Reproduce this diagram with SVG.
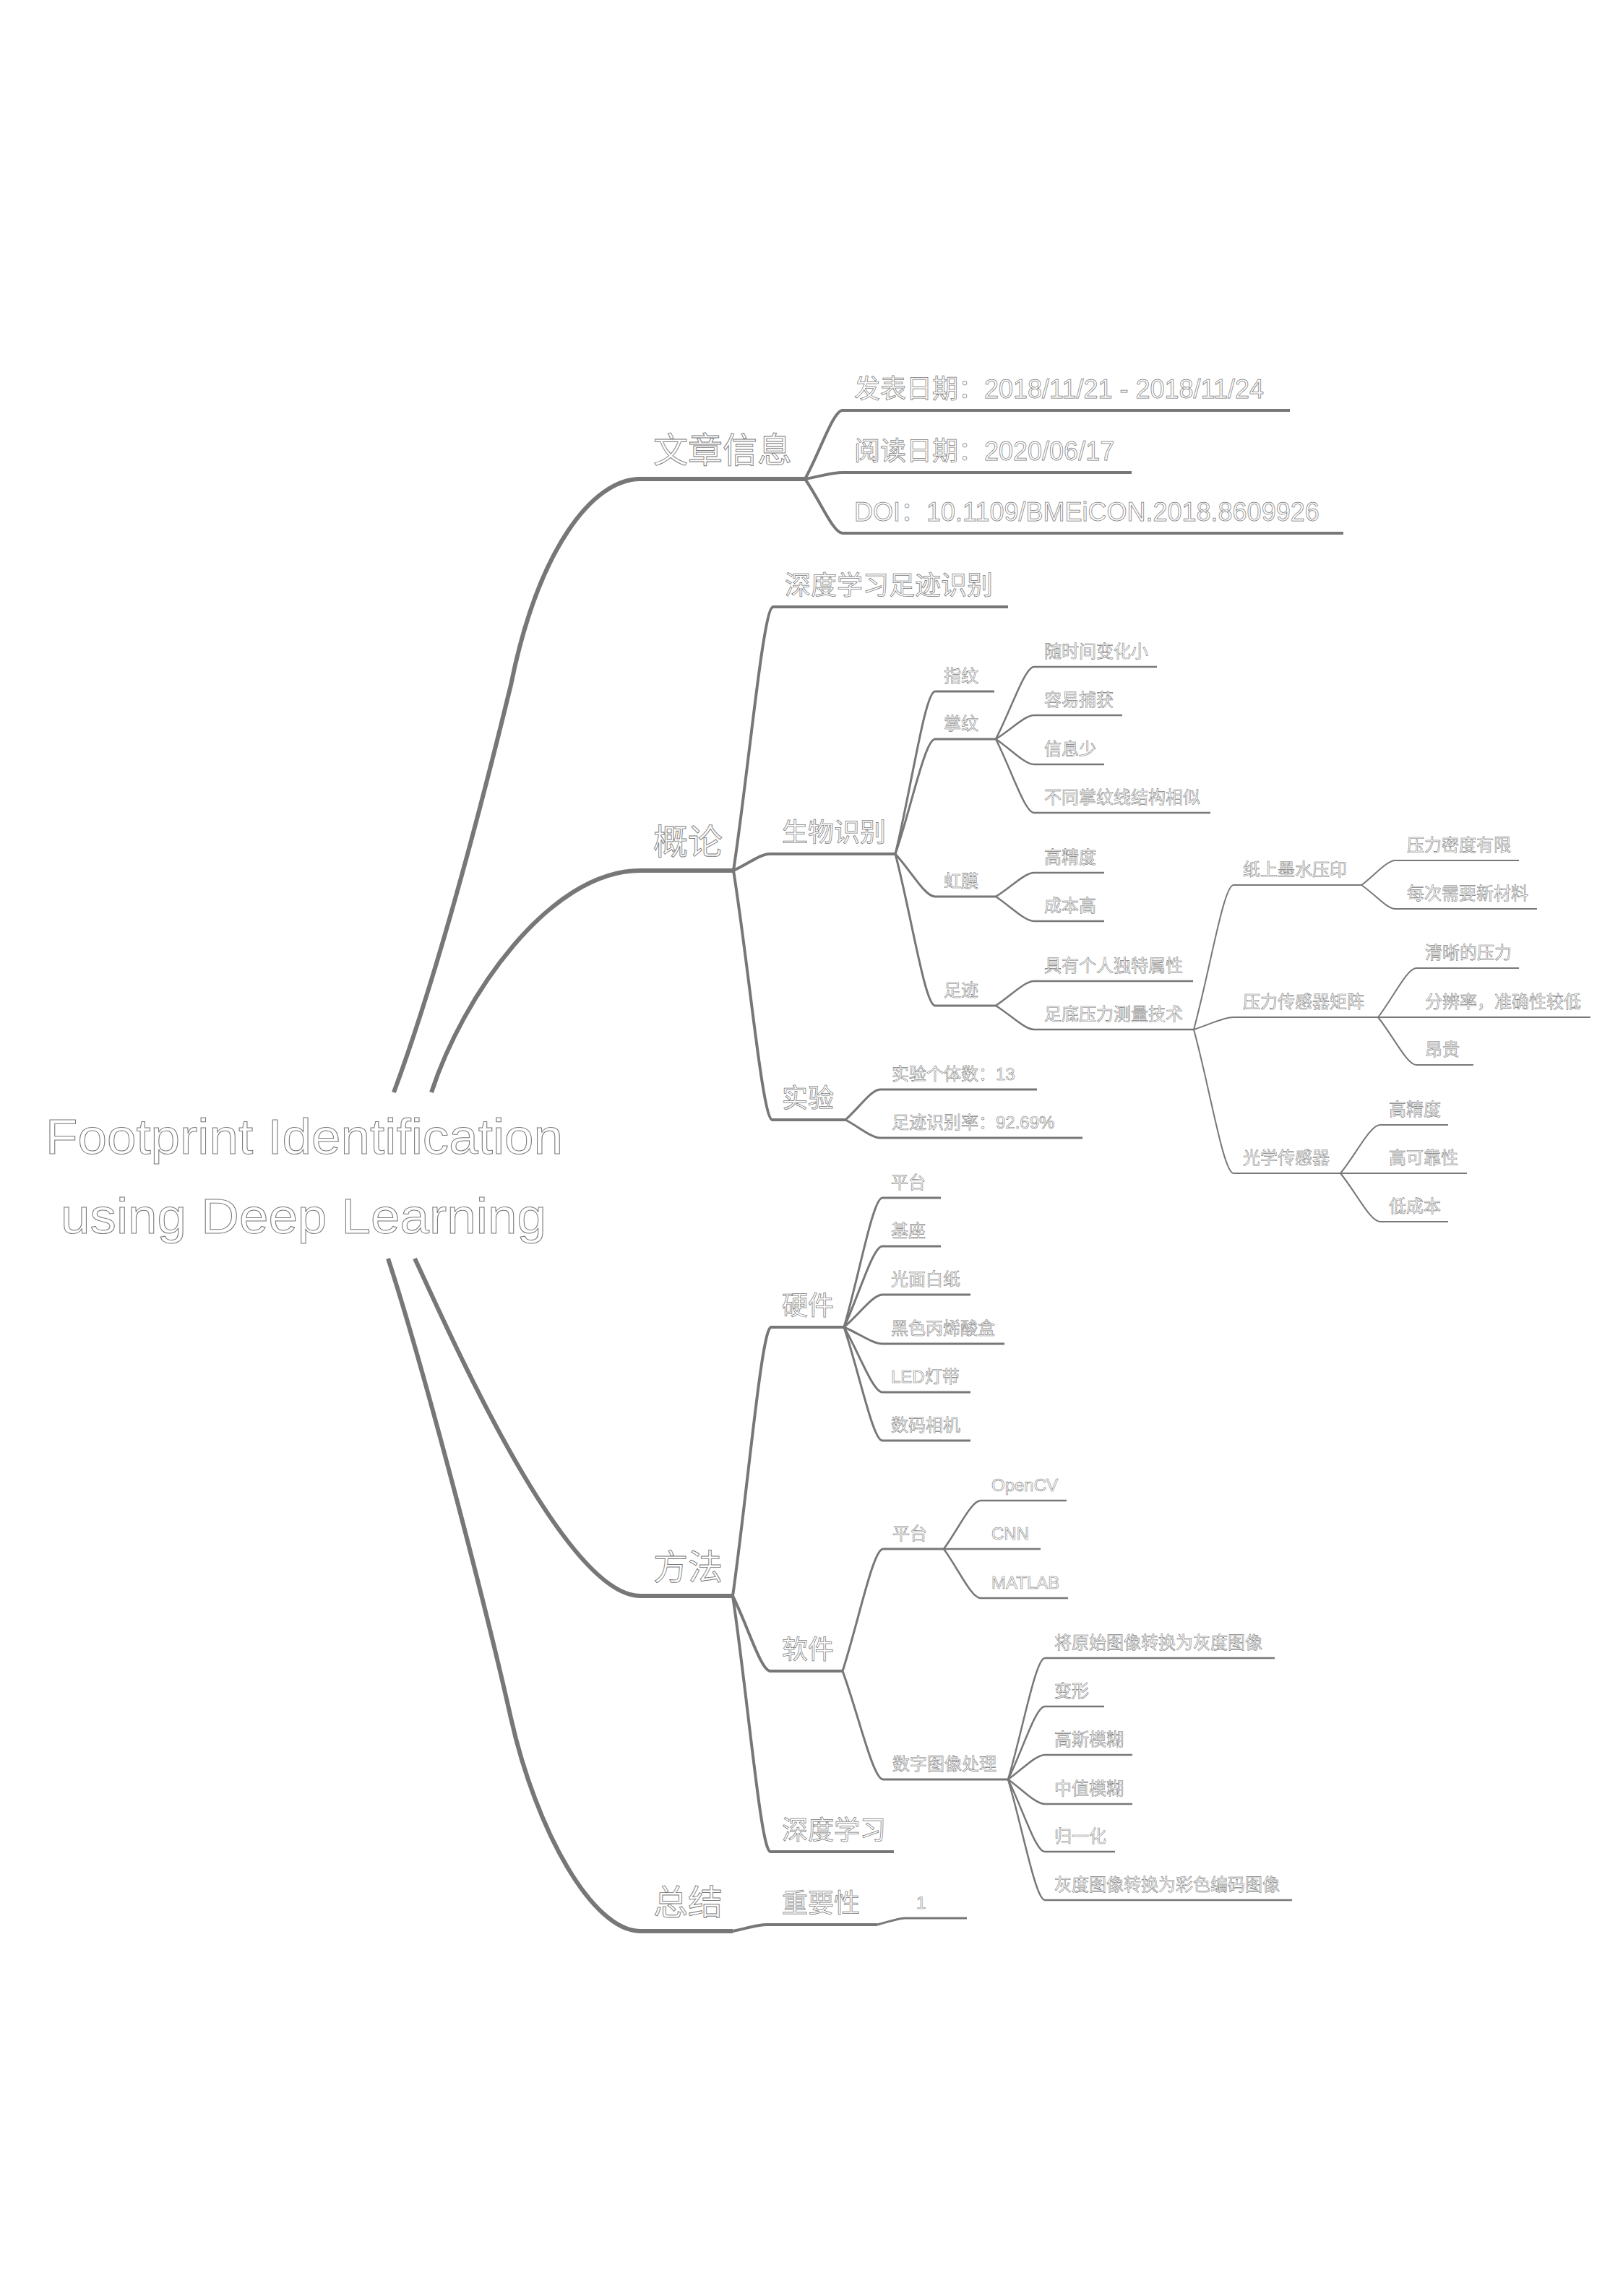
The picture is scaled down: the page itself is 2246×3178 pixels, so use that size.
<svg xmlns="http://www.w3.org/2000/svg" width="2246" height="3178" viewBox="0 0 2246 3178">
<style>
text{font-family:"Liberation Sans","Noto Sans CJK SC",sans-serif;fill:#fff;stroke:#7a7a7a;stroke-width:0.6}
.f68{font-size:68px;stroke-width:1}.f48{font-size:48px;stroke-width:0.9}.f36{font-size:36px;stroke-width:0.75}.f24{font-size:24px}
.c path,.u{fill:none;stroke:#777;stroke-linecap:butt}
.w6{stroke-width:6}.w4{stroke-width:4}.w3{stroke-width:3}.w25{stroke-width:2.5}.w2{stroke-width:2}
</style>
<rect width="2246" height="3178" fill="#fff"/>
<g id="connectors" class="c">
<path class="w6" d="M545,1512 C605,1350 667,1112 707,948 C745,760 820,663 886,663"/>
<path class="w6" d="M597,1512 C640,1380 760,1205 886,1205"/>
<path class="w6" d="M574,1742 C620,1840 780,2209 886,2209"/>
<path class="w6" d="M537,1742 C587,1895 672,2222 707,2378 C742,2534 820,2673 886,2673"/>
<path class="w4" d="M1114,663 C1135,625 1153,568 1166,568"/>
<path class="w4" d="M1114,663 C1135,659 1153,654 1166,654"/>
<path class="w4" d="M1114,663 C1135,693 1153,738 1166,738"/>
<path class="w4" d="M1015,1205 C1037,1059 1056,840 1070,840"/>
<path class="w4" d="M1015,1205 C1035,1196 1052,1182 1065,1182"/>
<path class="w4" d="M1015,1205 C1037,1343 1055,1550 1069,1550"/>
<path class="w3" d="M1239,1182 C1261,1092 1280,957 1294,957"/>
<path class="w3" d="M1239,1182 C1261,1118 1280,1023 1294,1023"/>
<path class="w3" d="M1239,1182 C1261,1206 1280,1241 1294,1241"/>
<path class="w3" d="M1239,1182 C1261,1266 1280,1392 1294,1392"/>
<path class="w25" d="M1378,1023 C1399,983 1418,923 1431,923"/>
<path class="w25" d="M1378,1023 C1399,1010 1418,990 1431,990"/>
<path class="w25" d="M1378,1023 C1399,1037 1418,1058 1431,1058"/>
<path class="w25" d="M1378,1023 C1399,1064 1418,1125 1431,1125"/>
<path class="w25" d="M1378,1241 C1399,1228 1418,1208 1431,1208"/>
<path class="w25" d="M1378,1241 C1399,1255 1418,1275 1431,1275"/>
<path class="w25" d="M1378,1392 C1399,1378 1418,1358 1431,1358"/>
<path class="w25" d="M1378,1392 C1399,1405 1418,1425 1431,1425"/>
<path class="w2" d="M1652,1425 C1674,1345 1693,1225 1707,1225"/>
<path class="w2" d="M1652,1425 C1674,1418 1693,1408 1707,1408"/>
<path class="w2" d="M1652,1425 C1674,1505 1693,1624 1707,1624"/>
<path class="w2" d="M1884,1225 C1903,1211 1919,1191 1931,1191"/>
<path class="w2" d="M1884,1225 C1903,1238 1919,1258 1931,1258"/>
<path class="w2" d="M1907,1408 C1928,1381 1947,1340 1960,1340"/>
<path class="w2" d="M1907,1408 L1960,1408"/>
<path class="w2" d="M1907,1408 C1928,1434 1947,1474 1960,1474"/>
<path class="w2" d="M1855,1624 C1877,1597 1896,1557 1910,1557"/>
<path class="w2" d="M1855,1624 L1910,1624"/>
<path class="w2" d="M1855,1624 C1877,1651 1896,1691 1910,1691"/>
<path class="w3" d="M1170,1550 C1189,1533 1206,1508 1218,1508"/>
<path class="w3" d="M1170,1550 C1189,1560 1206,1575 1218,1575"/>
<path class="w4" d="M1014,2209 C1035,2060 1054,1837 1067,1837"/>
<path class="w4" d="M1014,2209 C1035,2251 1053,2313 1066,2313"/>
<path class="w4" d="M1014,2209 C1035,2351 1053,2563 1066,2563"/>
<path class="w3" d="M1168,1837 C1189,1765 1208,1658 1221,1658"/>
<path class="w3" d="M1168,1837 C1189,1792 1208,1725 1221,1725"/>
<path class="w3" d="M1168,1837 C1189,1819 1208,1792 1221,1792"/>
<path class="w3" d="M1168,1837 C1189,1846 1208,1860 1221,1860"/>
<path class="w3" d="M1168,1837 C1189,1873 1208,1927 1221,1927"/>
<path class="w3" d="M1168,1837 C1189,1900 1208,1994 1221,1994"/>
<path class="w3" d="M1166,2313 C1188,2245 1208,2144 1222,2144"/>
<path class="w3" d="M1166,2313 C1188,2373 1208,2463 1222,2463"/>
<path class="w25" d="M1306,2144 C1326,2117 1344,2077 1357,2077"/>
<path class="w25" d="M1306,2144 L1357,2144"/>
<path class="w25" d="M1306,2144 C1326,2171 1344,2212 1357,2212"/>
<path class="w25" d="M1395,2463 C1415,2396 1433,2295 1446,2295"/>
<path class="w25" d="M1395,2463 C1415,2423 1433,2362 1446,2362"/>
<path class="w25" d="M1395,2463 C1415,2449 1433,2429 1446,2429"/>
<path class="w25" d="M1395,2463 C1415,2477 1433,2497 1446,2497"/>
<path class="w25" d="M1395,2463 C1415,2503 1433,2563 1446,2563"/>
<path class="w25" d="M1395,2463 C1415,2530 1433,2630 1446,2630"/>
<path class="w4" d="M1014,2673 C1033,2669 1049,2664 1061,2664"/>
<path class="w3" d="M1214,2664 C1230,2660 1243,2655 1253,2655"/>
</g>
<g id="root">
<text class="f68" x="421" y="1597" text-anchor="middle" textLength="716" lengthAdjust="spacingAndGlyphs">Footprint Identification</text>
<text class="f68" x="420" y="1707" text-anchor="middle" textLength="672" lengthAdjust="spacingAndGlyphs">using Deep Learning</text>
</g>
<g id="n-wzxx"><line class="u w6" x1="886" y1="663" x2="1114" y2="663"/><text class="f48" x="904" y="640">文章信息</text></g>
<g id="n-fbrq"><line class="u w4" x1="1166" y1="568" x2="1785" y2="568"/><text class="f36" x="1182" y="551">发表日期：2018/11/21 - 2018/11/24</text></g>
<g id="n-ydrq"><line class="u w4" x1="1166" y1="654" x2="1566" y2="654"/><text class="f36" x="1182" y="637">阅读日期：2020/06/17</text></g>
<g id="n-doi"><line class="u w4" x1="1166" y1="738" x2="1859" y2="738"/><text class="f36" x="1182" y="721">DOI：10.1109/BMEiCON.2018.8609926</text></g>
<g id="n-gl"><line class="u w6" x1="886" y1="1205" x2="1015" y2="1205"/><text class="f48" x="904" y="1182">概论</text></g>
<g id="n-sdxxzjsb"><line class="u w4" x1="1070" y1="840" x2="1395" y2="840"/><text class="f36" x="1086" y="823">深度学习足迹识别</text></g>
<g id="n-swsb"><line class="u w4" x1="1065" y1="1182" x2="1239" y2="1182"/><text class="f36" x="1082" y="1165">生物识别</text></g>
<g id="n-zhiwen"><line class="u w3" x1="1294" y1="957" x2="1376" y2="957"/><text class="f24" x="1306" y="944">指纹</text></g>
<g id="n-zhangwen"><line class="u w3" x1="1294" y1="1023" x2="1378" y2="1023"/><text class="f24" x="1306" y="1010">掌纹</text></g>
<g id="n-zw1"><line class="u w25" x1="1431" y1="923" x2="1601" y2="923"/><text class="f24" x="1445" y="910">随时间变化小</text></g>
<g id="n-zw2"><line class="u w25" x1="1431" y1="990" x2="1553" y2="990"/><text class="f24" x="1445" y="977">容易捕获</text></g>
<g id="n-zw3"><line class="u w25" x1="1431" y1="1058" x2="1528" y2="1058"/><text class="f24" x="1445" y="1045">信息少</text></g>
<g id="n-zw4"><line class="u w25" x1="1431" y1="1125" x2="1675" y2="1125"/><text class="f24" x="1445" y="1112">不同掌纹线结构相似</text></g>
<g id="n-hongmo"><line class="u w3" x1="1294" y1="1241" x2="1378" y2="1241"/><text class="f24" x="1306" y="1228">虹膜</text></g>
<g id="n-hm1"><line class="u w25" x1="1431" y1="1208" x2="1528" y2="1208"/><text class="f24" x="1445" y="1195">高精度</text></g>
<g id="n-hm2"><line class="u w25" x1="1431" y1="1275" x2="1528" y2="1275"/><text class="f24" x="1445" y="1262">成本高</text></g>
<g id="n-zuji"><line class="u w3" x1="1294" y1="1392" x2="1378" y2="1392"/><text class="f24" x="1306" y="1379">足迹</text></g>
<g id="n-zj1"><line class="u w25" x1="1431" y1="1358" x2="1651" y2="1358"/><text class="f24" x="1445" y="1345">具有个人独特属性</text></g>
<g id="n-zj2"><line class="u w25" x1="1431" y1="1425" x2="1652" y2="1425"/><text class="f24" x="1445" y="1412">足底压力测量技术</text></g>
<g id="n-zsmsyy"><line class="u w2" x1="1707" y1="1225" x2="1884" y2="1225"/><text class="f24" x="1720" y="1212">纸上墨水压印</text></g>
<g id="n-ylmdyx"><line class="u w2" x1="1931" y1="1191" x2="2102" y2="1191"/><text class="f24" x="1947" y="1178">压力密度有限</text></g>
<g id="n-mcxyxcl"><line class="u w2" x1="1931" y1="1258" x2="2127" y2="1258"/><text class="f24" x="1947" y="1245">每次需要新材料</text></g>
<g id="n-ylcgqjz"><line class="u w2" x1="1707" y1="1408" x2="1907" y2="1408"/><text class="f24" x="1720" y="1395">压力传感器矩阵</text></g>
<g id="n-qxdyl"><line class="u w2" x1="1960" y1="1340" x2="2102" y2="1340"/><text class="f24" x="1972" y="1327">清晰的压力</text></g>
<g id="n-fbl"><line class="u w2" x1="1960" y1="1408" x2="2201" y2="1408"/><text class="f24" x="1972" y="1395">分辨率，准确性较低</text></g>
<g id="n-anggui"><line class="u w2" x1="1960" y1="1474" x2="2039" y2="1474"/><text class="f24" x="1972" y="1461">昂贵</text></g>
<g id="n-gxcgq"><line class="u w2" x1="1707" y1="1624" x2="1855" y2="1624"/><text class="f24" x="1720" y="1611">光学传感器</text></g>
<g id="n-gx1"><line class="u w2" x1="1910" y1="1557" x2="2004" y2="1557"/><text class="f24" x="1922" y="1544">高精度</text></g>
<g id="n-gx2"><line class="u w2" x1="1910" y1="1624" x2="2030" y2="1624"/><text class="f24" x="1922" y="1611">高可靠性</text></g>
<g id="n-gx3"><line class="u w2" x1="1910" y1="1691" x2="2004" y2="1691"/><text class="f24" x="1922" y="1678">低成本</text></g>
<g id="n-shiyan"><line class="u w4" x1="1069" y1="1550" x2="1170" y2="1550"/><text class="f36" x="1082" y="1533">实验</text></g>
<g id="n-sy1"><line class="u w3" x1="1218" y1="1508" x2="1435" y2="1508"/><text class="f24" x="1234" y="1495">实验个体数：13</text></g>
<g id="n-sy2"><line class="u w3" x1="1218" y1="1575" x2="1498" y2="1575"/><text class="f24" x="1234" y="1562">足迹识别率：92.69%</text></g>
<g id="n-ff"><line class="u w6" x1="886" y1="2209" x2="1014" y2="2209"/><text class="f48" x="904" y="2186">方法</text></g>
<g id="n-yj"><line class="u w4" x1="1067" y1="1837" x2="1168" y2="1837"/><text class="f36" x="1082" y="1820">硬件</text></g>
<g id="n-yj1"><line class="u w3" x1="1221" y1="1658" x2="1302" y2="1658"/><text class="f24" x="1233" y="1645">平台</text></g>
<g id="n-yj2"><line class="u w3" x1="1221" y1="1725" x2="1302" y2="1725"/><text class="f24" x="1233" y="1712">基座</text></g>
<g id="n-yj3"><line class="u w3" x1="1221" y1="1792" x2="1343" y2="1792"/><text class="f24" x="1233" y="1779">光面白纸</text></g>
<g id="n-yj4"><line class="u w3" x1="1221" y1="1860" x2="1390" y2="1860"/><text class="f24" x="1233" y="1847">黑色丙烯酸盒</text></g>
<g id="n-yj5"><line class="u w3" x1="1221" y1="1927" x2="1343" y2="1927"/><text class="f24" x="1233" y="1914">LED灯带</text></g>
<g id="n-yj6"><line class="u w3" x1="1221" y1="1994" x2="1343" y2="1994"/><text class="f24" x="1233" y="1981">数码相机</text></g>
<g id="n-rj"><line class="u w4" x1="1066" y1="2313" x2="1166" y2="2313"/><text class="f36" x="1082" y="2296">软件</text></g>
<g id="n-rjpt"><line class="u w3" x1="1222" y1="2144" x2="1306" y2="2144"/><text class="f24" x="1235" y="2131">平台</text></g>
<g id="n-opencv"><line class="u w25" x1="1357" y1="2077" x2="1476" y2="2077"/><text class="f24" x="1372" y="2064">OpenCV</text></g>
<g id="n-cnn"><line class="u w25" x1="1357" y1="2144" x2="1440" y2="2144"/><text class="f24" x="1372" y="2131">CNN</text></g>
<g id="n-matlab"><line class="u w25" x1="1357" y1="2212" x2="1478" y2="2212"/><text class="f24" x="1372" y="2199">MATLAB</text></g>
<g id="n-szdxcl"><line class="u w3" x1="1222" y1="2463" x2="1395" y2="2463"/><text class="f24" x="1235" y="2450">数字图像处理</text></g>
<g id="n-tx1"><line class="u w25" x1="1446" y1="2295" x2="1764" y2="2295"/><text class="f24" x="1459" y="2282">将原始图像转换为灰度图像</text></g>
<g id="n-tx2"><line class="u w25" x1="1446" y1="2362" x2="1528" y2="2362"/><text class="f24" x="1459" y="2349">变形</text></g>
<g id="n-tx3"><line class="u w25" x1="1446" y1="2429" x2="1567" y2="2429"/><text class="f24" x="1459" y="2416">高斯模糊</text></g>
<g id="n-tx4"><line class="u w25" x1="1446" y1="2497" x2="1567" y2="2497"/><text class="f24" x="1459" y="2484">中值模糊</text></g>
<g id="n-tx5"><line class="u w25" x1="1446" y1="2563" x2="1543" y2="2563"/><text class="f24" x="1459" y="2550">归一化</text></g>
<g id="n-tx6"><line class="u w25" x1="1446" y1="2630" x2="1788" y2="2630"/><text class="f24" x="1459" y="2617">灰度图像转换为彩色编码图像</text></g>
<g id="n-sdxx"><line class="u w4" x1="1066" y1="2563" x2="1237" y2="2563"/><text class="f36" x="1082" y="2546">深度学习</text></g>
<g id="n-zongjie"><line class="u w6" x1="886" y1="2673" x2="1014" y2="2673"/><text class="f48" x="904" y="2650">总结</text></g>
<g id="n-zyx"><line class="u w4" x1="1061" y1="2664" x2="1214" y2="2664"/><text class="f36" x="1082" y="2647">重要性</text></g>
<g id="n-one"><line class="u w3" x1="1253" y1="2655" x2="1338" y2="2655"/><text class="f24" x="1268" y="2642">1</text></g>
</svg>
